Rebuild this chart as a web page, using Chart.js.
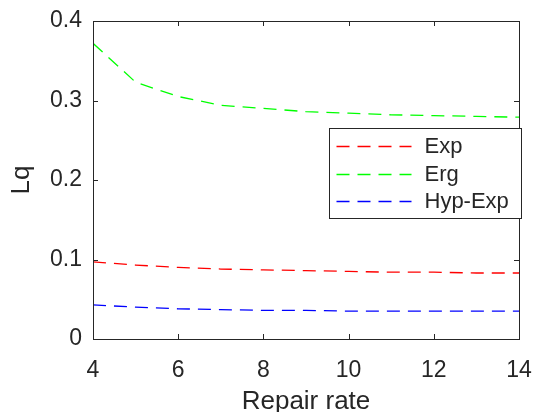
<!DOCTYPE html>
<html>
<head>
<meta charset="utf-8">
<script src="https://cdn.jsdelivr.net/npm/chart.js@4"></script>
<style>
  html, body { margin: 0; padding: 0; background: #fff; }
  #wrap { width: 536px; height: 412px; }
</style>
</head>
<body>
<div id="wrap"><canvas id="lqChart" width="536" height="412"></canvas></div>
<script>
// queue length vs repair rate for the three service distributions
const repairRates = [4, 5, 6, 7, 8, 9, 10, 11, 12, 13, 14];
const lqExp    = [0.097, 0.093, 0.090, 0.088, 0.087, 0.086, 0.085, 0.084, 0.084, 0.083, 0.083];
const lqErg    = [0.372, 0.323, 0.305, 0.294, 0.290, 0.286, 0.284, 0.282, 0.281, 0.280, 0.279];
const lqHypExp = [0.043, 0.040, 0.038, 0.037, 0.036, 0.036, 0.035, 0.035, 0.035, 0.035, 0.035];
const xTicks = [4, 6, 8, 10, 12, 14];
const yTicks = [0, 0.1, 0.2, 0.3, 0.4];

const AXIS_COLOR = '#262626';
const FONT = "'Liberation Sans', Arial, sans-serif";

const toPoints = ys => repairRates.map((x, i) => ({ x, y: ys[i] }));

function series(label, ys, color) {
  return {
    label,
    data: toPoints(ys),
    borderColor: color,
    backgroundColor: color,
    borderWidth: 1.3,
    borderDash: [13, 8],
    pointRadius: 0,
    tension: 0,
    fill: false
  };
}

// box around the axes + inward tick marks on all four sides
const framePlugin = {
  id: 'frame',
  afterDatasetsDraw(chart) {
    const { ctx, chartArea: a, scales: { x, y } } = chart;
    ctx.save();
    ctx.strokeStyle = AXIS_COLOR;
    ctx.lineWidth = 1;
    ctx.strokeRect(Math.round(a.left) + 0.5, Math.round(a.top) + 0.5,
      Math.round(a.right - a.left), Math.round(a.bottom - a.top));
    const len = 5;
    ctx.beginPath();
    xTicks.forEach(v => {
      const px = Math.round(x.getPixelForValue(v)) + 0.5;
      ctx.moveTo(px, a.bottom); ctx.lineTo(px, a.bottom - len);
      ctx.moveTo(px, a.top); ctx.lineTo(px, a.top + len);
    });
    yTicks.forEach(v => {
      const py = Math.round(y.getPixelForValue(v)) + 0.5;
      ctx.moveTo(a.left, py); ctx.lineTo(a.left + len, py);
      ctx.moveTo(a.right, py); ctx.lineTo(a.right - len, py);
    });
    ctx.stroke();
    ctx.restore();
  }
};

// legend box inside the plot, to the right
const boxLegendPlugin = {
  id: 'boxLegend',
  afterDraw(chart) {
    const { ctx, chartArea: a } = chart;
    const w = 192, h = 90;
    const left = Math.round(a.right) - 190 + 0.5;
    const top = Math.round(a.top) + 107 + 0.5;
    ctx.save();
    ctx.fillStyle = '#fff';
    ctx.fillRect(left, top, w, h);
    ctx.strokeStyle = AXIS_COLOR;
    ctx.lineWidth = 1;
    ctx.strokeRect(left, top, w, h);
    ctx.font = '22px ' + FONT;
    ctx.textBaseline = 'middle';
    chart.data.datasets.forEach((ds, i) => {
      const rowY = top + 17.5 + i * 27.5;
      ctx.strokeStyle = ds.borderColor;
      ctx.lineWidth = 1.3;
      ctx.setLineDash([13, 8]);
      ctx.beginPath();
      ctx.moveTo(left + 7, Math.round(rowY) + 0.5);
      ctx.lineTo(left + 82, Math.round(rowY) + 0.5);
      ctx.stroke();
      ctx.setLineDash([]);
      ctx.fillStyle = AXIS_COLOR;
      ctx.fillText(ds.label, left + 95, rowY + 1);
    });
    ctx.restore();
  }
};

new Chart(document.getElementById('lqChart'), {
  type: 'line',
  data: {
    datasets: [
      series('Exp', lqExp, '#ff0000'),
      series('Erg', lqErg, '#00ff00'),
      series('Hyp-Exp', lqHypExp, '#0000ff')
    ]
  },
  options: {
    responsive: false,
    animation: false,
    layout: { padding: { top: 21, right: 17, left: 0, bottom: 0 } },
    plugins: {
      legend: { display: false },
      tooltip: { enabled: false }
    },
    scales: {
      x: {
        type: 'linear',
        min: 4,
        max: 14,
        afterFit: s => {
          s.height = 73;
          s.paddingLeft = 0;
          s.paddingRight = 0;
        },
        afterBuildTicks: s => { s.ticks = xTicks.map(v => ({ value: v })); },
        grid: { display: false, drawTicks: false },
        border: { display: false },
        ticks: { color: AXIS_COLOR, font: { family: FONT, size: 23 }, padding: 18 },
        title: {
          display: true,
          text: 'Repair rate',
          color: AXIS_COLOR,
          font: { family: FONT, size: 26, lineHeight: 1 },
          padding: { top: 0, bottom: -3 }
        }
      },
      y: {
        min: 0,
        max: 0.4,
        afterFit: s => {
          s.width = 93;
          s.paddingTop = 0;
          s.paddingBottom = 0;
        },
        afterBuildTicks: s => { s.ticks = yTicks.map(v => ({ value: v })); },
        grid: { display: false, drawTicks: false },
        border: { display: false },
        ticks: {
          color: AXIS_COLOR,
          font: { family: FONT, size: 23 },
          padding: 11,
          callback: v => String(+v.toFixed(1))
        },
        title: {
          display: true,
          text: 'Lq',
          color: AXIS_COLOR,
          font: { family: FONT, size: 26, lineHeight: 1 },
          padding: { top: 9, bottom: 0 }
        }
      }
    }
  },
  plugins: [framePlugin, boxLegendPlugin]
});
</script>
</body>
</html>
